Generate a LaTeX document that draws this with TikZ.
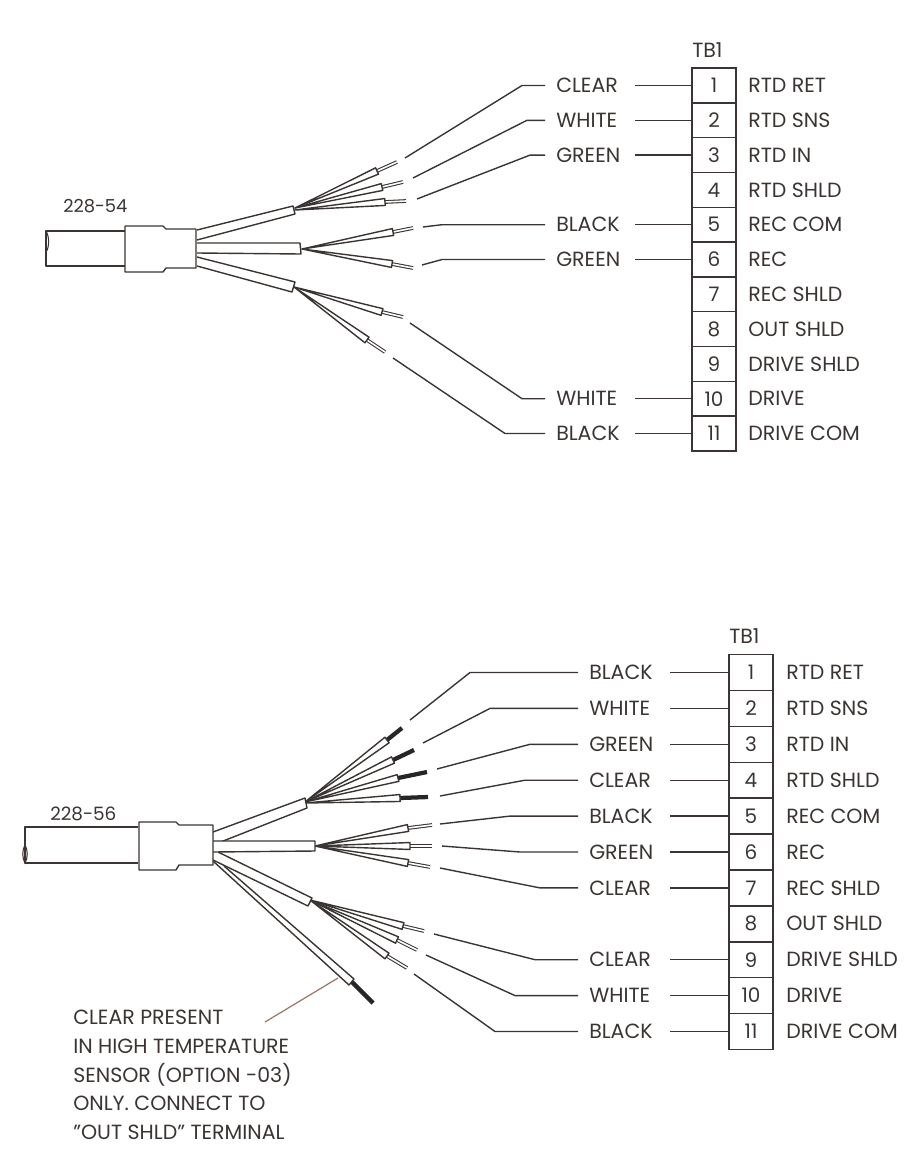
\documentclass[tikz,border=0pt]{standalone}
\usepackage{fontspec}
\setsansfont{Poppins}
\usetikzlibrary{calc}
\definecolor{inkgrey}{HTML}{3A3532}
\definecolor{noteline}{HTML}{9A7468}
\tikzset{
  wirelabel/.style={anchor=west, inner sep=0pt, text=inkgrey, font=\sffamily\fontsize{15.4}{18}\selectfont},
  cell/.style={draw=inkgrey, line width=1.05pt, minimum width=33pt, inner sep=0pt, text=inkgrey, font=\sffamily\fontsize{15}{18}\selectfont},
  wirebody/.style={draw=inkgrey, fill=white, line width=1.05pt, line join=round},
  baretip/.style={draw=inkgrey, line width=.8pt, double=white, double distance=1.2pt},
  darktip/.style={draw=black!85, line width=3.2pt},
  leader/.style={draw=inkgrey, line width=1.05pt},
}
% conductor: start, end of insulation, end of tip
\newcommand{\condwire}[4][baretip]{
  \draw[#1] (#3) to (#4);
  \draw[wirebody] (#2) -- ($(#3)!2.6pt!90:(#2)$) -- ($(#3)!2.6pt!-90:(#2)$) -- cycle;
}
\begin{document}
\begin{tikzpicture}[x=.75pt, y=-.75pt]
  \useasboundingbox (0,0) rectangle (909,1171);

  % upper cable
  \node[wirelabel, font=\sffamily\fontsize{13.4}{16}\selectfont] (tagu) at (63,206) {228-54};
  \node[wirelabel, font=\sffamily\fontsize{15.4}{16}\selectfont] (tbu) at (692,50) {TB1};
  \foreach \r/\name in {1/RTD RET, 2/RTD SNS, 3/RTD IN, 4/RTD SHLD, 5/REC COM, 6/REC, 7/REC SHLD, 8/OUT SHLD, 9/DRIVE SHLD, 10/DRIVE, 11/DRIVE COM} {
    \node[cell, minimum height=26.1pt] (u\r) at (714,{85.5+34.8*(\r-1)}) {\r};
    \node[wirelabel] (un\r) at (748,{85.5+34.8*(\r-1)}) {\name};
  }
  \foreach \r/\lbl/\sx/\sy/\bx in {1/CLEAR/405/158/522, 2/WHITE/413/178/527, 3/GREEN/417/199/530, 5/BLACK/423/227/442, 6/GREEN/422/265/442, 10/WHITE/410/323/522, 11/BLACK/393/358/505} {
    \node[wirelabel] (ul\r) at (556,{85.5+34.8*(\r-1)}) {\lbl};
    \coordinate (us\r) at (635,{85.5+34.8*(\r-1)});
    \coordinate (ue\r) at (\sx,\sy);
    \coordinate (ub\r) at (\bx,{85.5+34.8*(\r-1)});
    \coordinate (uc\r) at (545,{85.5+34.8*(\r-1)});
    \draw[leader] (us\r) to (u\r.west);
    \draw[leader] (ue\r) -- (ub\r) -- (uc\r);
  }
  \condwire{295,208}{377,171}{397,162}
  \condwire{295,208}{382,187}{403,182}
  \condwire{295,210}{385,202}{406,201}
  \condwire{302,249}{393,232}{413,228}
  \condwire{302,249}{392,264}{413,268}
  \condwire{294,287}{382,312}{403,317}
  \condwire{294,287}{367,340}{385,352}
  \draw[wirebody] (197,230) -- (293,206) -- (295,214) -- (197,240);
  \draw[wirebody] (197,243) -- (300,243) -- (301,254) -- (197,253);
  \draw[wirebody] (197,257) -- (295,282) -- (292,292) -- (197,266);
  \draw[wirebody] (125,231) -- (46,231) -- (46,266) -- (125,266);
  \draw[leader, line width=.8pt] (46,231) .. controls (50,238) and (49,248) .. (46,252);
  \draw[wirebody] (125,226) -- (163,226) -- (166,229) -- (196,229) -- (196,268) -- (166,268) -- (163,272) -- (125,272) -- cycle;

  % lower cable
  \node[wirelabel, font=\sffamily\fontsize{13.8}{16}\selectfont] (tagl) at (50,814) {228-56};
  \node[wirelabel, font=\sffamily\fontsize{15.4}{16}\selectfont] (tbl) at (729,636) {TB1};
  \foreach \r/\name in {1/RTD RET, 2/RTD SNS, 3/RTD IN, 4/RTD SHLD, 5/REC COM, 6/REC, 7/REC SHLD, 8/OUT SHLD, 9/DRIVE SHLD, 10/DRIVE, 11/DRIVE COM} {
    \node[cell, minimum height=27pt] (l\r) at (751,{672.5+35.9*(\r-1)}) {\r};
    \node[wirelabel] (ln\r) at (786,{672.5+35.9*(\r-1)}) {\name};
  }
  \foreach \r/\lbl/\sx/\sy/\bx in {1/BLACK/410/720/470, 2/WHITE/423/743/490, 3/GREEN/437/769/530, 4/CLEAR/440/796/525, 5/BLACK/440/824/510, 6/GREEN/442/846/520, 7/CLEAR/440/868/540, 9/CLEAR/434/934/535, 10/WHITE/426/955/515, 11/BLACK/414/974/495} {
    \node[wirelabel] (ll\r) at (589,{672.5+35.9*(\r-1)}) {\lbl};
    \coordinate (ls\r) at (670,{672.5+35.9*(\r-1)});
    \coordinate (le\r) at (\sx,\sy);
    \coordinate (lb\r) at (\bx,{672.5+35.9*(\r-1)});
    \coordinate (lc\r) at (578,{672.5+35.9*(\r-1)});
    \draw[leader] (ls\r) to (l\r.west);
    \draw[leader] (le\r) -- (lb\r) -- (lc\r);
  }
  \condwire[darktip]{305,802}{387,740}{402,728}
  \condwire[darktip]{305,802}{393,760}{414,750}
  \condwire[darktip]{305,802}{398,778}{427,772}
  \condwire[darktip]{305,803}{400,798}{428,797}
  \condwire{315,846}{408,828}{432,825}
  \condwire{315,846}{410,846}{432,846}
  \condwire{315,846}{408,863}{430,867}
  \condwire{310,900}{403,926}{424,931}
  \condwire{310,900}{397,940}{417,950}
  \condwire{310,900}{387,956}{407,968}
  \draw[darktip] (352,982) to (373,1003);
  \draw[wirebody] (224,866) -- (354,979) -- (349,985) -- (213,861);
  \draw[wirebody] (213,832) -- (305,798) -- (307,808) -- (213,845);
  \draw[wirebody] (213,841) -- (315,841) -- (315,851) -- (213,852);
  \draw[wirebody] (218,852) -- (312,898) -- (308,906) -- (213,860);
  \draw[wirebody] (138,827) -- (25,827) -- (25,863) -- (138,863);
  \draw[leader, line width=.8pt] (25,845) .. controls (22,850) and (22,858) .. (25,863) .. controls (28,858) and (28,850) .. (25,845);
  \draw[wirebody] (139,822) -- (176,822) -- (179,825) -- (213,825) -- (213,865) -- (179,865) -- (176,870) -- (139,870) -- cycle;

  % note
  \node[wirelabel] (note1) at (73,1017) {CLEAR PRESENT};
  \node[wirelabel] (note2) at (73,1046) {IN HIGH TEMPERATURE};
  \node[wirelabel] (note3) at (73,1075) {SENSOR (OPTION -03)};
  \node[wirelabel] (note4) at (73,1103) {ONLY. CONNECT TO};
  \node[wirelabel] (note5) at (73,1132) {"OUT SHLD" TERMINAL};
  \coordinate (notehit) at (338,978);
  \coordinate (notefoot) at (265,1022);
  \draw[noteline, line width=.9pt] (notefoot) to (notehit);
\end{tikzpicture}
\end{document}
